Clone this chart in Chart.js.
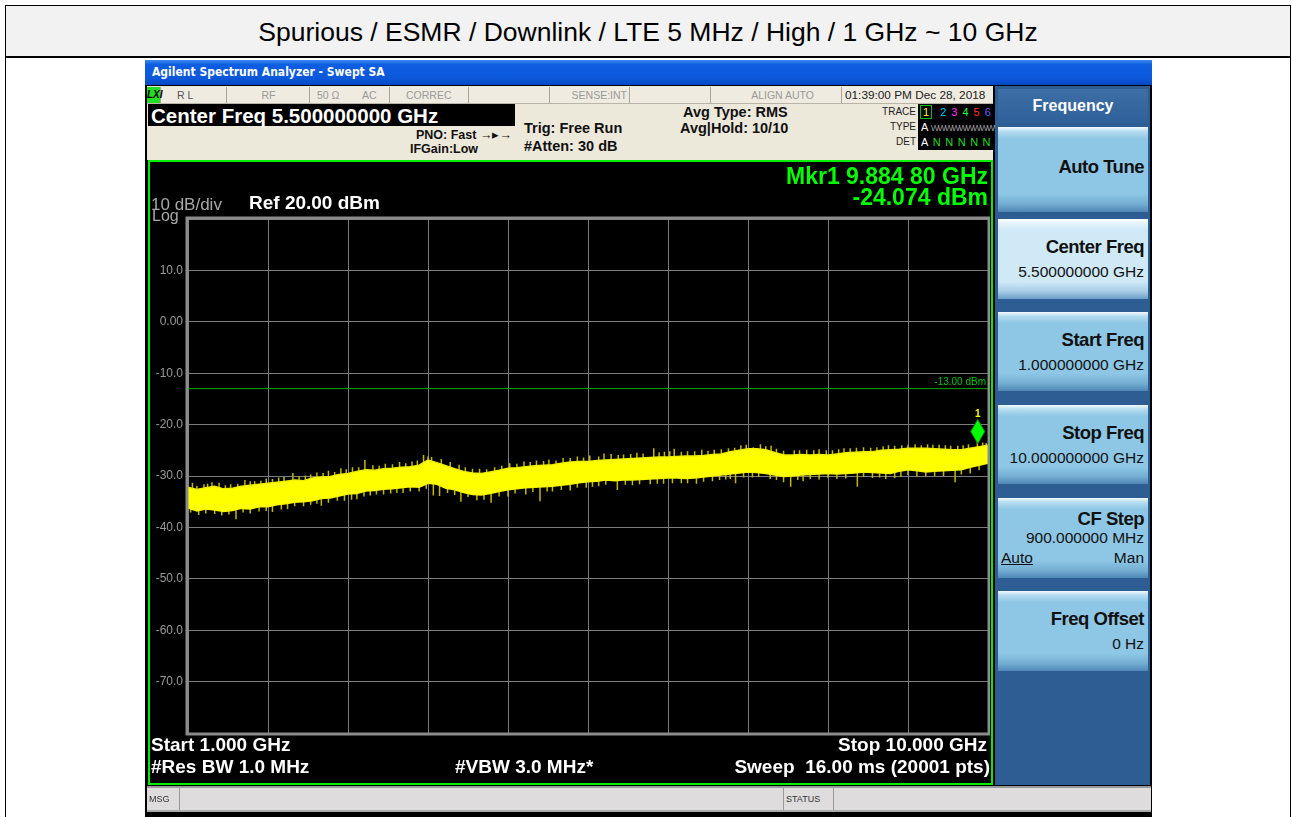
<!DOCTYPE html>
<html>
<head>
<meta charset="utf-8">
<script src="https://cdn.jsdelivr.net/npm/chart.js@4.4.1/dist/chart.umd.min.js"></script>
<style>
  body { margin: 0; background: #fff; font-family: Arial, "Liberation Sans", sans-serif; }
  #page { position: relative; width: 1292px; height: 817px; overflow: hidden; }
  .abs { position: absolute; white-space: nowrap; }
  #frame { left: 5px; top: 5px; width: 1284px; height: 830px; border: 1px solid #000; }
  #titleRow { left: 6px; top: 6px; width: 1284px; height: 50px; background: #f2f2f2; border-bottom: 2px solid #000;
    font-size: 26.5px; line-height: 52px; text-align: center; color: #000; }
  #shot { left: 145px; top: 60px; width: 1007px; height: 757px; background: #000; }
  #winbar { left: 145px; top: 60px; width: 1007px; height: 25px;
    background: linear-gradient(#3f8af2, #0e5ee2 18%, #0b57da 75%, #0747c4); }
  #winbar span { position: absolute; left: 7px; top: 5px; color: #fff; font-weight: bold; font-size: 12px; font-family: Tahoma, "DejaVu Sans Condensed", Arial, sans-serif; }
  #hdr { left: 147px; top: 86px; width: 846px; height: 74px; background: #ece8da; }
  #status { left: 147px; top: 87px; width: 846px; height: 16px; background: #efebe0; border-bottom: 1px solid #b9b5a8; }
  .cell { position: absolute; top: 0; height: 16px; border-right: 1px solid #a8a49a; font-size: 10.5px; color: #777; line-height: 16px; }
  #cfbox { left: 148px; top: 104px; width: 367px; height: 22px; background: #000; color: #fff; font-weight: bold; font-size: 20.5px; line-height: 23px; padding-left: 3px; box-sizing: border-box; }
  .hb { font-weight: bold; font-size: 14.5px; color: #111; }
  #trbox { left: 918px; top: 104px; width: 75px; height: 46px; background: #000; }
  .lbl { font-size: 10px; color: #222; }
  #panel { left: 148px; top: 160px; width: 845px; height: 625px; border: 2px solid #00ee00; box-sizing: border-box; background: #000; }
  #chartBox { position: absolute; left: 150px; top: 162px; width: 840px; height: 621px; }
  .pt { color: #fff; font-weight: bold; font-size: 19px; }
  .mk { color: #00ff00; font-weight: bold; font-size: 23px; }
  #side { left: 995px; top: 86px; width: 155px; height: 699px; background: #2d5d93; }
  #sideTitle { left: 998px; top: 89px; width: 150px; height: 34px; background: linear-gradient(#3d6fa6, #2f6099); color: #fff; font-weight: bold; font-size: 16px; line-height: 34px; text-align: center; }
  .key { position: absolute; left: 998px; width: 150px; box-sizing: border-box; padding-right: 4px; text-align: right; color: #111;
    background: linear-gradient(#f4fbff 0, #b7ddf1 5%, #8ec7e5 14%, #8ec7e5 78%, #74afd3 90%, #4f88b6 100%); }
  .key.sel { background: linear-gradient(#ffffff 0, #e2f2fb 6%, #cfe9f7 14%, #cfe9f7 78%, #a9cfe8 90%, #6d9fc7 100%); }
  .key .t { position: absolute; right: 4px; font-weight: bold; font-size: 18.5px; letter-spacing: -0.5px; }
  .key .v { position: absolute; right: 4px; font-size: 15.5px; }
  #msg { left: 147px; top: 786px; width: 1004px; height: 26px; background: #dedcdc; border-top: 2px solid #999; border-bottom: 2px solid #aaa; box-sizing: border-box; }
  #msg .cell { height: 22px; line-height: 22px; font-size: 9px; color: #333; border-right: 1px solid #999; }
</style>
</head>
<body>
<div id="page">
  <div id="frame" class="abs"></div>
  <div id="titleRow" class="abs">Spurious / ESMR / Downlink / LTE 5 MHz / High / 1 GHz ~ 10 GHz</div>
  <div id="shot" class="abs"></div>
  <div id="winbar" class="abs"><span>Agilent Spectrum Analyzer - Swept SA</span></div>
  <div id="hdr" class="abs"></div>
  <div id="status" class="abs">
    <div class="cell" style="left:0;width:13px;background:#22dd22;color:#000;font-weight:bold;font-style:italic;font-size:10px;">LXI</div>
    <div class="cell" style="left:14px;width:66px;padding-left:16px;box-sizing:border-box;color:#555;">R L</div>
    <div class="cell" style="left:81px;width:81px;text-align:center;color:#999;">RF</div>
    <div class="cell" style="left:162px;width:80px;color:#999;"><span style="position:absolute;left:8px;">50 Ω</span><span style="position:absolute;left:53px;">AC</span></div>
    <div class="cell" style="left:242px;width:80px;color:#999;padding-left:17px;box-sizing:border-box;">CORREC</div>
    <div class="cell" style="left:322px;width:80px;"></div>
    <div class="cell" style="left:402px;width:81px;text-align:right;color:#999;padding-right:2px;box-sizing:border-box;">SENSE:INT</div>
    <div class="cell" style="left:483px;width:80px;"></div>
    <div class="cell" style="left:563px;width:132px;text-align:right;color:#999;padding-right:27px;box-sizing:border-box;">ALIGN AUTO</div>
    <div class="cell" style="left:696px;width:150px;color:#222;padding-left:2px;box-sizing:border-box;border-right:none;font-size:11.8px;">01:39:00 PM Dec 28, 2018</div>
  </div>
  <div id="cfbox" class="abs">Center Freq 5.500000000 GHz</div>
  <div class="abs hb" style="left:416px;top:127px;font-size:12.5px;">PNO: Fast <span style="font-weight:normal;">&#x2192;&#x25B8;&#x2192;</span></div>
  <div class="abs hb" style="left:410px;top:142px;font-size:12.5px;">IFGain:Low</div>
  <div class="abs hb" style="left:524px;top:120px;">Trig: Free Run</div>
  <div class="abs hb" style="left:524px;top:138px;">#Atten: 30 dB</div>
  <div class="abs hb" style="left:683px;top:104px;">Avg Type: RMS</div>
  <div class="abs hb" style="left:680px;top:120px;">Avg|Hold: 10/10</div>
  <div class="abs lbl" style="left:880px;top:106px;width:36px;text-align:right;">TRACE</div>
  <div class="abs lbl" style="left:880px;top:121px;width:36px;text-align:right;">TYPE</div>
  <div class="abs lbl" style="left:880px;top:136px;width:36px;text-align:right;">DET</div>
  <div id="trbox" class="abs">
    <div class="abs" style="left:2px;top:2px;font-size:11px;letter-spacing:5px;"><span style="color:#ffff00;border:1px solid #00c000;padding:0 0 0 2px;letter-spacing:2px;">1</span> <span style="color:#00c8ff">2</span><span style="color:#ff30ff">3</span><span style="color:#30ff30">4</span><span style="color:#ff3030">5</span><span style="color:#6060ff">6</span></div>
    <div class="abs" style="left:3px;top:17px;font-size:11px;color:#fff;">A <span style="color:#999;font-size:9px;letter-spacing:-1.5px;">WWWWWWWWWW</span></div>
    <div class="abs" style="left:3px;top:32px;font-size:11px;color:#fff;letter-spacing:4.5px;">A<span style="color:#22dd22;">NNNNN</span></div>
  </div>

  <div id="panel" class="abs"></div>
  <div id="chartBox"><canvas id="spectrum"></canvas></div>
  <div class="abs" style="left:151px;top:195px;color:#a8a8a8;font-size:17px;">10 dB/div</div>
  <div class="abs" style="left:152px;top:207px;color:#a8a8a8;font-size:16px;">Log</div>
  <div class="abs pt" style="left:249px;top:192px;">Ref 20.00 dBm</div>
  <div class="abs mk" style="right:304px;top:163px;">Mkr1 9.884 80 GHz</div>
  <div class="abs mk" style="right:304px;top:184px;">-24.074 dBm</div>
  <div class="abs pt" style="left:151px;top:734px;">Start 1.000 GHz</div>
  <div class="abs pt" style="right:305px;top:734px;">Stop 10.000 GHz</div>
  <div class="abs pt" style="left:151px;top:756px;">#Res BW 1.0 MHz</div>
  <div class="abs pt" style="left:455px;top:756px;">#VBW 3.0 MHz*</div>
  <div class="abs pt" style="right:302px;top:756px;">Sweep&nbsp; 16.00 ms (20001 pts)</div>

  <div id="side" class="abs"></div>
  <div id="sideTitle" class="abs">Frequency</div>
  <div class="key" style="top:127px;height:85px;"><span class="t" style="top:29px;">Auto Tune</span></div>
  <div class="key sel" style="top:219px;height:80px;"><span class="t" style="top:17px;">Center Freq</span><span class="v" style="top:44px;">5.500000000 GHz</span></div>
  <div class="key" style="top:312px;height:79px;"><span class="t" style="top:17px;">Start Freq</span><span class="v" style="top:44px;">1.000000000 GHz</span></div>
  <div class="key" style="top:405px;height:79px;"><span class="t" style="top:17px;">Stop Freq</span><span class="v" style="top:44px;">10.000000000 GHz</span></div>
  <div class="key" style="top:498px;height:80px;"><span class="t" style="top:10px;">CF Step</span><span class="v" style="top:31px;">900.000000 MHz</span><span class="v" style="top:51px;">Man</span><span class="v" style="top:51px;left:3px;right:auto;text-decoration:underline;">Auto</span></div>
  <div class="key" style="top:591px;height:80px;"><span class="t" style="top:17px;">Freq Offset</span><span class="v" style="top:44px;">0 Hz</span></div>

  <div id="msg" class="abs">
    <div class="cell" style="left:2px;width:30px;">MSG</div>
    <div class="cell" style="left:636px;width:47px;border-left:1px solid #999;padding-left:2px;">STATUS</div>
  </div>
</div>

<script>
const freqs = [1.0, 1.1, 1.2, 1.3, 1.4, 1.5, 1.6, 1.7, 1.8, 1.9,
  2.0, 2.1, 2.2, 2.3, 2.4, 2.5, 2.6, 2.7, 2.8, 2.9,
  3.0, 3.1, 3.2, 3.3, 3.4, 3.5, 3.6, 3.7, 3.8, 3.9,
  4.0, 4.1, 4.2, 4.3, 4.4, 4.5, 4.6, 4.7, 4.8, 4.9,
  5.0, 5.1, 5.2, 5.3, 5.4, 5.5, 5.6, 5.7, 5.8, 5.9,
  6.0, 6.1, 6.2, 6.3, 6.4, 6.5, 6.6, 6.7, 6.8, 6.9,
  7.0, 7.1, 7.2, 7.3, 7.4, 7.5, 7.6, 7.7, 7.8, 7.9,
  8.0, 8.1, 8.2, 8.3, 8.4, 8.5, 8.6, 8.7, 8.8, 8.9,
  9.0, 9.1, 9.2, 9.3, 9.4, 9.5, 9.6, 9.7, 9.8, 9.9, 10.0];

const traceTop = [-32.2, -32.6, -32.3, -32.0, -32.5, -32.4, -32.0, -31.8, -31.6, -31.4,
  -31.2, -31.0, -30.8, -30.9, -30.4, -30.2, -30.1, -29.7, -29.5, -29.1,
  -28.8, -28.9, -28.6, -28.5, -28.3, -28.2, -27.9, -26.9, -27.4, -28.0,
  -28.6, -29.1, -29.4, -29.5, -29.2, -28.9, -28.5, -28.4, -28.2, -28.0,
  -27.9, -27.8, -27.5, -27.3, -27.2, -27.2, -27.0, -26.9, -26.8, -26.7,
  -26.6, -26.5, -26.4, -26.3, -26.3, -26.2, -26.1, -26.1, -26.0, -25.8,
  -25.7, -25.3, -25.0, -24.7, -24.7, -24.9, -25.4, -25.9, -25.9, -25.8,
  -25.9, -25.8, -25.9, -25.7, -25.5, -25.4, -25.3, -25.3, -25.0, -24.9,
  -24.8, -24.6, -24.6, -24.6, -24.7, -24.8, -24.9, -24.9, -24.6, -24.3, -24.0];

const traceBottom = [-36.2, -36.8, -36.4, -36.6, -36.9, -36.7, -36.3, -36.4, -36.0, -36.0,
  -35.6, -35.4, -35.1, -35.0, -34.8, -34.4, -34.3, -33.9, -33.5, -33.4,
  -32.9, -32.8, -32.6, -32.5, -32.3, -32.1, -32.2, -31.4, -31.6, -32.4,
  -32.7, -33.2, -33.6, -33.7, -33.4, -33.0, -32.7, -32.5, -32.3, -32.2,
  -32.1, -32.0, -31.8, -31.6, -31.3, -31.1, -31.0, -30.8, -30.9, -30.8,
  -30.8, -30.7, -30.6, -30.5, -30.4, -30.4, -30.5, -30.4, -30.2, -30.0,
  -29.8, -29.6, -29.4, -29.2, -29.3, -29.5, -29.8, -30.1, -30.0, -29.8,
  -29.7, -29.6, -29.5, -29.6, -29.5, -29.4, -29.2, -29.3, -29.4, -29.5,
  -29.1, -28.8, -29.0, -29.2, -29.1, -29.0, -28.9, -28.8, -28.3, -27.9, -27.5];

// noise spikes sticking out above / below the band
const upSpikeFreq = [1.05, 1.10, 1.18, 1.22, 1.27, 1.35, 1.42, 1.48, 1.56, 1.64, 1.70, 1.75, 1.82, 1.88, 1.95,
  2.02, 2.08, 2.18, 2.25, 2.32, 2.38, 2.45, 2.52, 2.58, 2.65, 2.72, 2.78, 2.85, 2.92, 2.99,
  3.08, 3.15, 3.22, 3.30, 3.38, 3.45, 3.52, 3.58, 3.65, 3.70, 3.74, 3.85, 3.95,
  4.05, 4.12, 4.20, 4.28, 4.36, 4.45, 4.53, 4.62, 4.70, 4.78, 4.85, 4.92,
  5.00, 5.06, 5.14, 5.22, 5.30, 5.38, 5.45, 5.52, 5.62, 5.68, 5.76, 5.84, 5.90, 5.98,
  6.05, 6.12, 6.24, 6.30, 6.36, 6.42, 6.47, 6.55, 6.62, 6.70, 6.78, 6.85, 6.92,
  7.00, 7.08, 7.15, 7.22, 7.28, 7.36, 7.44, 7.50, 7.56, 7.62, 7.70, 7.82, 7.88, 7.96,
  8.04, 8.10, 8.18, 8.25, 8.32, 8.38, 8.45, 8.52, 8.60, 8.68, 8.75, 8.82, 8.88, 8.95,
  9.03, 9.10, 9.18, 9.25, 9.32, 9.38, 9.45, 9.52, 9.58, 9.66, 9.72, 9.78, 9.88, 9.94, 9.98];
const upSpikeTip = [-31.3, -31.9, -31.6, -31.5, -31.2, -31.3, -31.8, -31.6, -31.5, -30.8, -31.0, -31.0, -30.9, -30.5, -30.6,
  -30.3, -30.2, -29.4, -30.0, -29.9, -29.7, -29.3, -29.4, -29.0, -29.2, -28.5, -28.7, -28.3, -28.3, -26.9,
  -27.9, -28.0, -27.6, -27.7, -27.3, -27.5, -27.2, -27.0, -25.9, -26.2, -26.3, -26.7, -27.3,
  -27.8, -28.3, -28.6, -28.6, -28.7, -28.3, -28.0, -27.5, -27.6, -27.2, -27.3, -27.0,
  -27.1, -26.8, -27.0, -26.5, -26.5, -26.2, -26.4, -26.0, -26.2, -25.6, -25.7, -25.9, -25.8, -25.7,
  -25.5, -25.6, -24.6, -25.4, -25.3, -25.2, -24.7, -25.3, -25.2, -25.2, -24.9, -25.1, -24.9,
  -24.8, -24.6, -24.5, -24.0, -23.9, -24.4, -23.8, -24.2, -24.1, -24.7, -25.1, -25.0, -25.0, -24.9,
  -25.0, -24.8, -25.0, -25.0, -24.8, -24.6, -24.6, -24.5, -24.4, -24.5, -24.4, -24.2, -24.0, -24.1,
  -24.0, -23.9, -23.8, -24.0, -23.8, -23.9, -23.9, -24.0, -24.1, -24.1, -24.0, -23.8, -23.4, -23.5, -23.6];
const downSpikeFreq = [1.03, 1.12, 1.20, 1.30, 1.38, 1.46, 1.54, 1.62, 1.70, 1.80, 1.88, 1.95,
  2.05, 2.12, 2.20, 2.30, 2.38, 2.45, 2.50, 2.58, 2.68, 2.76, 2.84, 2.90, 2.98,
  3.05, 3.12, 3.20, 3.28, 3.35, 3.42, 3.50, 3.60, 3.68, 3.76, 3.83, 3.92,
  4.00, 4.07, 4.15, 4.25, 4.33, 4.41, 4.50, 4.60, 4.68, 4.80, 4.88, 4.96,
  5.04, 5.10, 5.20, 5.30, 5.38, 5.48, 5.55, 5.62, 5.70, 5.83, 5.92,
  6.00, 6.08, 6.20, 6.28, 6.35, 6.45, 6.55, 6.62, 6.72, 6.80, 6.90, 6.98,
  7.05, 7.10, 7.16, 7.25, 7.35, 7.42, 7.55, 7.62, 7.70, 7.78, 7.86, 7.92,
  8.00, 8.10, 8.20, 8.30, 8.40, 8.53, 8.60, 8.70, 8.78, 8.85, 8.95,
  9.02, 9.10, 9.20, 9.30, 9.40, 9.50, 9.63, 9.70, 9.80, 9.90];
const downSpikeTip = [-37.1, -37.6, -37.3, -37.4, -37.7, -37.5, -38.4, -37.1, -37.3, -36.9, -36.8, -37.0,
  -36.5, -36.4, -35.9, -35.9, -35.6, -35.4, -35.8, -35.2, -34.8, -34.8, -34.6, -34.5, -34.0,
  -33.8, -33.6, -33.6, -33.4, -33.3, -33.3, -33.0, -33.0, -32.5, -33.8, -33.9, -33.3,
  -33.7, -35.0, -34.1, -34.7, -34.6, -35.2, -34.0, -34.0, -33.4, -33.6, -33.1, -34.9,
  -33.0, -33.0, -32.7, -32.8, -32.3, -32.3, -32.1, -32.0, -31.7, -32.7, -31.7,
  -31.8, -31.6, -31.6, -31.5, -31.5, -31.4, -31.4, -31.4, -31.5, -31.1, -31.0, -30.8,
  -30.7, -30.6, -31.4, -30.3, -30.3, -30.2, -30.6, -30.8, -31.2, -32.1, -30.8, -31.0,
  -30.6, -30.7, -30.4, -30.6, -30.5, -32.1, -30.2, -30.4, -30.3, -30.6, -30.4,
  -30.2, -29.8, -30.1, -30.1, -30.0, -30.0, -31.2, -29.7, -29.5, -28.9];

const limitLevel = -13;
const markerFreq = 9.8848;
const markerLevel = -24.074;

const yTicks = [20, 10, 0, -10, -20, -30, -40, -50, -60, -70, -80];
const xGrid = [1.0, 1.9, 2.8, 3.7, 4.6, 5.5, 6.4, 7.3, 8.2, 9.1, 10.0];

const topPts = freqs.map((f, i) => ({ x: f, y: traceTop[i] }));
const bottomPts = freqs.map((f, i) => ({ x: f, y: traceBottom[i] }));

function bandMid(f) {
  let k = 0;
  while (k < freqs.length - 1 && freqs[k + 1] <= f) k++;
  return (traceTop[k] + traceBottom[k]) / 2;
}
const spikePts = [];
upSpikeFreq.forEach((f, i) => spikePts.push({ x: f, y: bandMid(f) }, { x: f, y: upSpikeTip[i] }, { x: f, y: null }));
downSpikeFreq.forEach((f, i) => spikePts.push({ x: f, y: bandMid(f) }, { x: f, y: downSpikeTip[i] }, { x: f, y: null }));

const screenFrame = {
  id: "screenFrame",
  beforeDatasetsDraw(chart) {
    const { ctx, chartArea: a, scales } = chart;
    ctx.save();
    ctx.strokeStyle = "#7c7c7c";
    ctx.lineWidth = 1;
    xGrid.forEach((f) => {
      const px = Math.round(scales.x.getPixelForValue(f)) + 0.5;
      ctx.beginPath();
      ctx.moveTo(px, a.top);
      ctx.lineTo(px, a.bottom);
      ctx.stroke();
    });
    ctx.restore();
  },
  afterDatasetsDraw(chart) {
    const { ctx, chartArea: a, scales } = chart;
    const x = scales.x, y = scales.y;
    ctx.save();
    ctx.strokeStyle = "#8c8c8c";
    ctx.lineWidth = 3;
    ctx.strokeRect(a.left - 1, a.top - 1, a.right - a.left + 2, a.bottom - a.top + 2);

    ctx.fillStyle = "#00c800";
    ctx.font = "10px Arial";
    ctx.textAlign = "right";
    ctx.textBaseline = "bottom";
    ctx.fillText("-13.00 dBm", a.right - 2, y.getPixelForValue(limitLevel) - 1);

    const mx = x.getPixelForValue(markerFreq);
    const my = y.getPixelForValue(markerLevel);
    ctx.beginPath();
    ctx.moveTo(mx, my - 2);
    ctx.lineTo(mx + 7, my - 14);
    ctx.lineTo(mx, my - 26);
    ctx.lineTo(mx - 7, my - 14);
    ctx.closePath();
    ctx.fillStyle = "#00ff00";
    ctx.fill();
    ctx.strokeStyle = "#009900";
    ctx.lineWidth = 1;
    ctx.stroke();
    ctx.fillStyle = "#ffff00";
    ctx.font = "bold 10px Arial";
    ctx.textAlign = "center";
    ctx.fillText("1", mx, my - 26);
    ctx.restore();
  }
};

const ctx = document.getElementById("spectrum").getContext("2d");
const chart = new Chart(ctx, {
  type: "line",
  data: {
    datasets: [
      {
        label: "trace top",
        data: topPts,
        borderColor: "#f0f000",
        backgroundColor: "#ffff00",
        borderWidth: 1.5,
        pointRadius: 0,
        fill: "+1",
      },
      {
        label: "trace bottom",
        data: bottomPts,
        borderColor: "#f0f000",
        borderWidth: 1.5,
        pointRadius: 0,
        fill: false,
      },
      {
        label: "limit",
        data: [{ x: freqs[0], y: limitLevel }, { x: freqs[freqs.length - 1], y: limitLevel }],
        borderColor: "#00a800",
        borderWidth: 1,
        pointRadius: 0,
        fill: false,
      },
      {
        label: "spikes",
        data: spikePts,
        borderColor: "#c4b800",
        borderWidth: 1.5,
        pointRadius: 0,
        spanGaps: false,
        fill: false,
      },
    ],
  },
  options: {
    responsive: true,
    maintainAspectRatio: false,
    animation: false,
    layout: { padding: { top: 57, right: 2, bottom: 50, left: 0 } },
    plugins: { legend: { display: false }, tooltip: { enabled: false } },
    scales: {
      x: {
        type: "linear",
        min: 1,
        max: 10,
        afterFit: (s) => { s.height = 0; },
        ticks: { display: false },
        grid: { display: false },
        border: { display: false },
      },
      y: {
        min: -80,
        max: 20,
        afterBuildTicks: (s) => { s.ticks = yTicks.map((v) => ({ value: v })); },
        afterFit: (s) => { s.width = 38; },
        ticks: {
          color: "#9a9a9a",
          font: { family: "Arial", size: 12 },
          padding: 5,
          callback: (v) => (v === 20 || v === -80 ? "" : v === 0 ? "0.00" : v.toFixed(1)),
        },
        grid: { color: "#7c7c7c", lineWidth: 1, drawTicks: false },
        border: { display: false },
      },
    },
  },
  plugins: [screenFrame],
});
</script>
</body>
</html>
